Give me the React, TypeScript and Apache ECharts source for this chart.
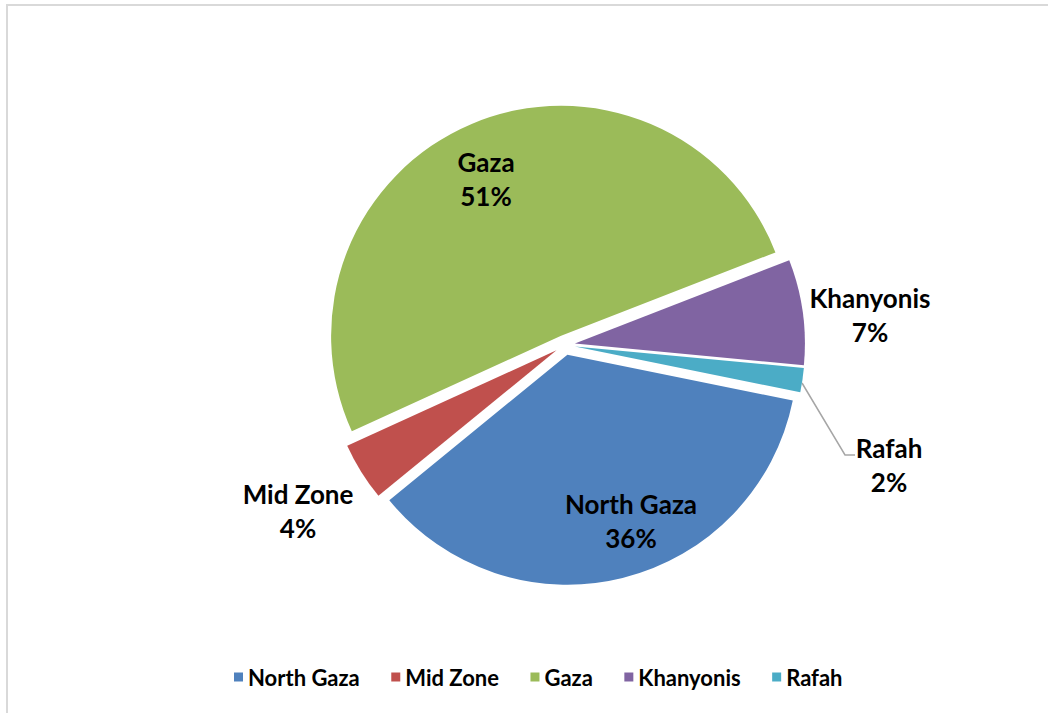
import React, { useEffect, useRef } from "react";
import * as echarts from "echarts";

const categories = ["North Gaza", "Mid Zone", "Gaza", "Khanyonis", "Rafah"];
const shares = [35.9, 4.1, 50.9, 7.4, 1.7];
const colors = ["#4F81BD", "#C0504D", "#9BBB59", "#8064A2", "#4BACC6"];
const outsideLabels = ["Mid Zone", "Khanyonis", "Rafah"];

// label anchor positions (page pixels), styling only
const labelAnchors: Record<string, [number, number]> = {
  "North Gaza": [631, 521],
  "Mid Zone": [298, 511],
  Gaza: [486, 179],
  Khanyonis: [870, 315],
  Rafah: [889, 465],
};
const rafahLeader = [
  [802, 383],
  [845, 455],
  [855, 455],
];

const FONT = "Lato, 'Noto Sans', sans-serif";
const CX = 565;
const CY = 345;
const RADIUS = 230;
const EXPLODE = 10;
const START = 348.5;

export default function App() {
  const ref = useRef<HTMLDivElement>(null);
  useEffect(() => {
    if (!ref.current) return;
    const chart = echarts.init(ref.current, null, { renderer: "svg" });
    const total = shares.reduce((a, b) => a + b, 0);
    let cum = 0;
    const series = categories.map((name, i) => {
      const mid = START - ((cum + shares[i] / 2) / total) * 360;
      cum += shares[i];
      const rad = (mid * Math.PI) / 180;
      const center = [CX + EXPLODE * Math.cos(rad), CY - EXPLODE * Math.sin(rad)];
      return {
        type: "pie",
        name,
        center,
        radius: RADIUS,
        startAngle: START,
        clockwise: true,
        percentPrecision: 0,
        avoidLabelOverlap: false,
        silent: true,
        data: categories.map((n, j) =>
          j === i
            ? {
                name: n,
                value: shares[j],
                itemStyle: { color: colors[j] },
                label: {
                  show: true,
                  position: outsideLabels.includes(n) ? "outside" : "inside",
                },
                labelLine: { show: n === "Rafah" },
              }
            : {
                name: n,
                value: shares[j],
                itemStyle: { color: "rgba(0,0,0,0)" },
                label: { show: false },
                labelLine: { show: false },
              }
        ),
        label: {
          show: true,
          formatter: "{b}\n{d}%",
          fontFamily: FONT,
          fontWeight: "bold",
          fontSize: 26,
          lineHeight: 34,
          color: "#000",
          align: "center",
        },
        labelLine: {
          show: false,
          lineStyle: { color: "#a6a6a6", width: 1.5 },
        },
        labelLayout: (params: any) => {
          if (params.dataIndex !== i) return {};
          const [x, y] = labelAnchors[name];
          const out: any = { x, y, align: "center", verticalAlign: "middle" };
          if (name === "Rafah") out.labelLinePoints = rafahLeader;
          return out;
        },
        emphasis: { disabled: true },
      };
    });
    chart.setOption({
      animation: false,
      backgroundColor: "#ffffff",
      graphic: [
        {
          type: "rect",
          shape: { x: 7, y: 5, width: 1080, height: 760 },
          style: { fill: "none", stroke: "#d9d9d9", lineWidth: 2 },
          silent: true,
        },
      ],
      legend: {
        data: categories.map((name, i) => ({
          name,
          itemStyle: { color: colors[i] },
        })),
        left: 229,
        top: 661,
        icon: "rect",
        itemWidth: 9,
        itemHeight: 9,
        itemGap: 31.5,
        selectedMode: false,
        textStyle: {
          fontFamily: FONT,
          fontWeight: "bold",
          fontSize: 22,
          lineHeight: 22,
          color: "#000",
        },
      },
      series,
    });
    return () => chart.dispose();
  }, []);
  return (
    <div
      ref={ref}
      style={{ position: "fixed", left: 0, top: 0, width: 1048, height: 713 }}
    />
  );
}
